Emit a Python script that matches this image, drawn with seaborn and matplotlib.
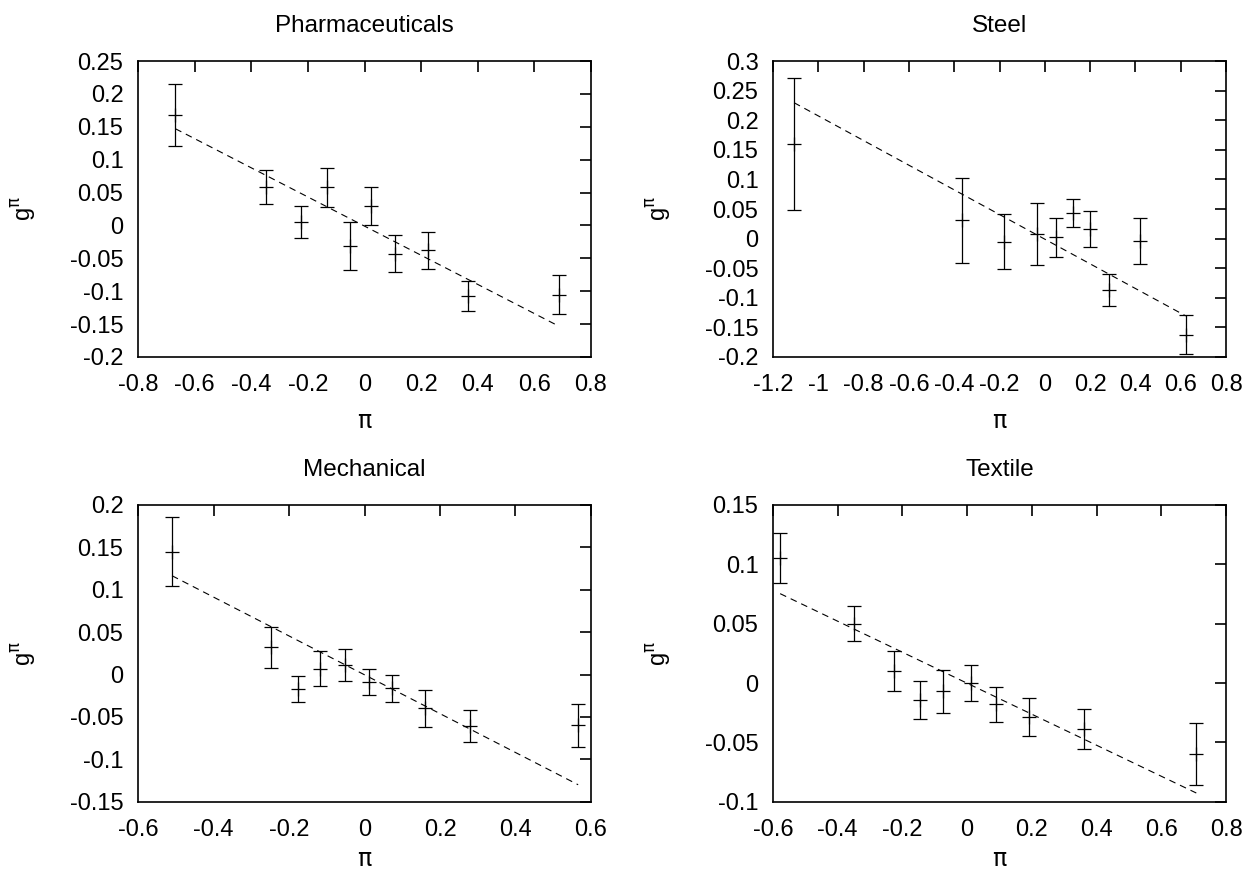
import numpy as np
import pandas as pd
import matplotlib
matplotlib.use("Agg")
import matplotlib.pyplot as plt
from matplotlib.ticker import FuncFormatter, MultipleLocator
import seaborn as sns

# ---- data ----
titles = ["Pharmaceuticals", "Steel", "Mechanical", "Textile"]

pharma_x = [-0.668, -0.349, -0.226, -0.131, -0.053, 0.022, 0.107, 0.224, 0.365, 0.686]
pharma_y = [0.168, 0.058, 0.005, 0.058, -0.031, 0.029, -0.043, -0.038, -0.107, -0.105]
pharma_e = [0.047, 0.026, 0.024, 0.030, 0.037, 0.029, 0.028, 0.028, 0.023, 0.030]

steel_x = [-1.107, -0.366, -0.181, -0.034, 0.050, 0.124, 0.200, 0.282, 0.422, 0.622]
steel_y = [0.160, 0.031, -0.005, 0.008, 0.002, 0.043, 0.016, -0.087, -0.004, -0.162]
steel_e = [0.112, 0.072, 0.047, 0.053, 0.033, 0.024, 0.030, 0.027, 0.039, 0.033]

mech_x = [-0.510, -0.248, -0.177, -0.118, -0.051, 0.012, 0.073, 0.160, 0.279, 0.566]
mech_y = [0.145, 0.032, -0.017, 0.007, 0.011, -0.009, -0.016, -0.040, -0.061, -0.060]
mech_e = [0.041, 0.024, 0.015, 0.021, 0.019, 0.015, 0.016, 0.022, 0.019, 0.025]

text_x = [-0.578, -0.351, -0.227, -0.147, -0.074, 0.011, 0.090, 0.190, 0.361, 0.708]
text_y = [0.105, 0.050, 0.010, -0.014, -0.007, 0.000, -0.018, -0.029, -0.039, -0.060]
text_e = [0.021, 0.015, 0.017, 0.016, 0.018, 0.015, 0.015, 0.016, 0.017, 0.026]

fit_slope = [-0.2216, -0.2083, -0.2291, -0.1306]
fit_icept = [-0.001, -0.001, -0.0003, -0.0002]

xlims = [(-0.8, 0.8), (-1.2, 0.8), (-0.6, 0.6), (-0.6, 0.8)]
ylims = [(-0.2, 0.25), (-0.2, 0.3), (-0.15, 0.2), (-0.1, 0.15)]
xsteps = [0.2, 0.2, 0.2, 0.2]
ysteps = [0.05, 0.05, 0.05, 0.05]

series = [(pharma_x, pharma_y, pharma_e), (steel_x, steel_y, steel_e),
          (mech_x, mech_y, mech_e), (text_x, text_y, text_e)]

# ---- style ----
sns.set_theme(style="white")
plt.rcParams['font.family'] = ['Liberation Sans', 'DejaVu Sans']
plt.rcParams['axes.unicode_minus'] = False
plt.rcParams['mathtext.fontset'] = 'dejavusans'
plt.rcParams['text.color'] = 'black'
plt.rcParams['axes.labelcolor'] = 'black'
plt.rcParams['axes.titlecolor'] = 'black'

fig = plt.figure(figsize=(12.46, 8.72), dpi=100)
positions = [
    [0.1108, 0.5906, 0.3635, 0.3394],
    [0.6204, 0.5906, 0.3636, 0.3394],
    [0.1108, 0.0806, 0.3635, 0.3403],
    [0.6204, 0.0806, 0.3636, 0.3403],
]
xlabel_pads = [10.5, 10.5, 6.0, 6.0]

fmt = FuncFormatter(lambda v, p: ("%g" % round(v, 6)) if abs(v) > 1e-9 else "0")

for i, (xs, ys, es) in enumerate(series):
    ax = fig.add_axes(positions[i])
    df = pd.DataFrame({"x": xs, "y": ys, "e": es})
    ax.errorbar(df["x"], df["y"], yerr=df["e"], fmt="none", ecolor="black",
                elinewidth=0.9, capsize=5, capthick=0.9)
    sns.scatterplot(data=df, x="x", y="y", marker="+", s=110, color="black",
                    linewidth=0.9, ax=ax, zorder=3)
    xf = np.array([min(xs), max(xs)])
    fit_df = pd.DataFrame({"x": xf, "y": fit_slope[i] * xf + fit_icept[i]})
    sns.lineplot(data=fit_df, x="x", y="y", color="black", linewidth=0.8,
                 dashes=False, ax=ax)
    ax.lines[-1].set_dashes((6, 4.5))

    ax.set_xlim(*xlims[i])
    ax.set_ylim(*ylims[i])
    ax.xaxis.set_major_locator(MultipleLocator(xsteps[i]))
    ax.yaxis.set_major_locator(MultipleLocator(ysteps[i]))
    ax.xaxis.set_major_formatter(fmt)
    ax.yaxis.set_major_formatter(fmt)
    ax.tick_params(direction="in", length=8, width=1.2, top=True, right=True,
                   labelsize=17, colors="black")
    ax.tick_params(axis="x", pad=12.5)
    ax.tick_params(axis="y", pad=10.5)
    for s in ax.spines.values():
        s.set_linewidth(1.2)
        s.set_color("black")
        s.set_visible(True)
    ax.set_title(titles[i], fontsize=17.5, pad=21, color="black")
    ax.set_xlabel(r"$\mathrm{\pi}$", fontsize=17, labelpad=xlabel_pads[i], color="black")
    ax.set_ylabel(r"g$^{\mathrm{\pi}}$", fontsize=17, color="black")
    ax.yaxis.set_label_coords(-0.2208, 0.5)
    ax.grid(False)

fig.savefig("out.png", dpi=100)
